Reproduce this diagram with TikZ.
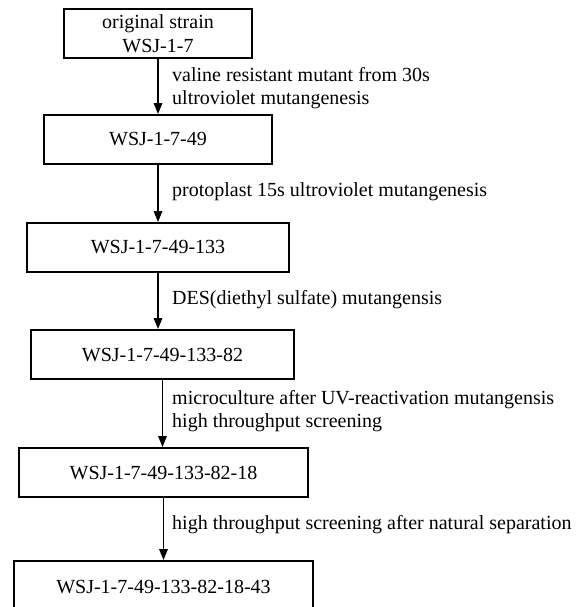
\documentclass[tikz,border=0pt]{standalone}
\usepackage{fontspec}
\setmainfont{Liberation Serif}
\usetikzlibrary{arrows.meta}
\begin{document}
\begin{tikzpicture}[x=1pt,y=-1pt,
  box/.style={draw,line width=1.9pt,rectangle,inner sep=0pt,align=center,font=\fontsize{20}{23.5}\selectfont,minimum height=49pt},
  lbl/.style={anchor=west,inner sep=0pt,align=left,font=\fontsize{20}{23}\selectfont},
  arr/.style={line width=1.6pt,-{Triangle[length=11pt,width=8.5pt]}}]
\useasboundingbox (0,0) rectangle (579,607);
\clip (0,0) rectangle (579,607);
\node[box,minimum width=188pt,minimum height=48.5pt] (b1) at (158,33.5) {original strain\\WSJ-1-7};
\node[box,minimum width=228pt] (b2) at (158,139.5) {WSJ-1-7-49};
\node[box,minimum width=262pt] (b3) at (158,247.5) {WSJ-1-7-49-133};
\node[box,minimum width=263pt] (b4) at (162.5,354.5) {WSJ-1-7-49-133-82};
\node[box,minimum width=289pt] (b5) at (163.5,472.5) {WSJ-1-7-49-133-82-18};
\node[box,minimum width=299pt,minimum height=52pt] (b6) at (163.5,587) {WSJ-1-7-49-133-82-18-43};
\draw[arr] (b1.south) -- (b1.south |- b2.north);
\draw[arr] (b2.south) -- (b2.south |- b3.north);
\draw[arr] (b3.south) -- (b3.south |- b4.north);
\draw[arr] (b4.south) -- (b4.south |- b5.north);
\draw[arr] (b5.south) -- (b5.south |- b6.north);
\node[lbl] (l1) at (172,88.5) {valine resistant mutant from 30s\\ultroviolet mutangenesis};
\node[lbl] (l2) at (172,192) {protoplast 15s ultroviolet mutangenesis};
\node[lbl] (l3) at (172,300) {DES(diethyl sulfate) mutangensis};
\node[lbl] (l4) at (172,411) {microculture after UV-reactivation mutangensis\\high throughput screening};
\node[lbl] (l5) at (172,525) {high throughput screening after natural separation};
\end{tikzpicture}
\end{document}
